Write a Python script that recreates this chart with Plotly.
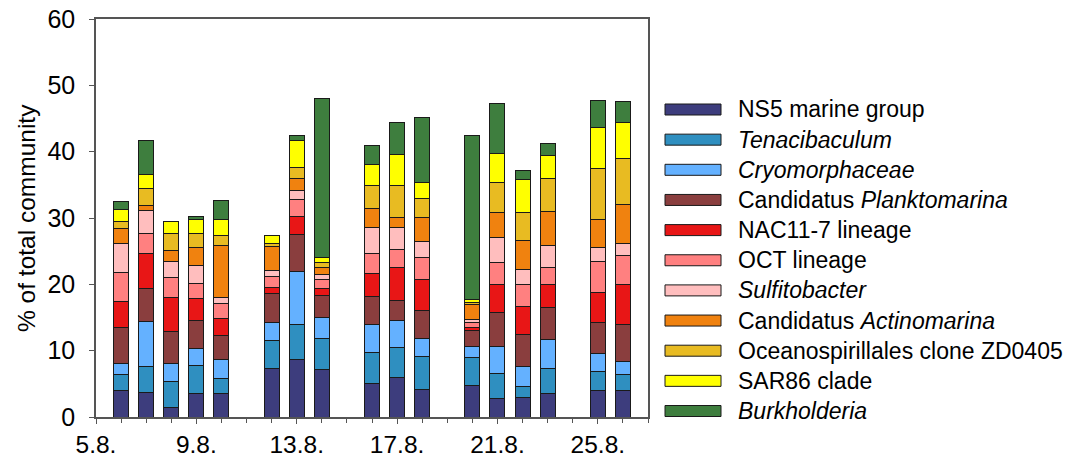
import plotly.graph_objects as go

# Sampling days (August)
days = [6, 7, 8, 9, 10, 12, 13, 14, 16, 17, 18, 20, 21, 22, 23, 25, 26]
tick_days = [5, 9, 13, 17, 21, 25]
tick_labels = ["5.8.", "9.8.", "13.8.", "17.8.", "21.8.", "25.8."]

ns5 = [4.0, 3.7, 1.4, 3.5, 3.6, 7.3, 8.6, 7.2, 5.1, 5.9, 4.2, 4.8, 2.8, 3.0, 3.5, 4.0, 4.0]
tenacibaculum = [2.4, 3.85, 3.9, 4.2, 2.25, 4.2, 5.4, 4.7, 4.6, 4.6, 4.9, 4.2, 3.8, 1.65, 3.8, 2.9, 2.4]
cryomorphaceae = [1.6, 6.9, 2.8, 2.65, 2.85, 2.7, 8.0, 3.1, 4.2, 4.1, 2.7, 1.7, 4.0, 3.0, 4.4, 2.7, 2.0]
planktomarina = [5.55, 4.9, 4.75, 4.2, 3.55, 4.4, 5.5, 3.3, 4.2, 3.0, 4.3, 2.4, 5.1, 4.8, 4.8, 4.6, 5.6]
nac11_7 = [3.85, 5.35, 5.15, 3.3, 2.6, 0.95, 2.75, 1.1, 3.5, 5.0, 4.6, 0.35, 4.3, 4.2, 3.5, 4.6, 6.0]
oct_lineage = [4.4, 3.0, 3.0, 2.3, 2.2, 1.65, 2.6, 1.35, 3.0, 2.7, 3.4, 0.8, 3.3, 3.3, 2.5, 4.6, 4.4]
sulfitobacter = [4.3, 3.45, 2.4, 2.75, 1.0, 0.85, 1.35, 0.75, 4.0, 3.25, 2.35, 0.45, 3.7, 2.25, 3.35, 2.15, 1.7]
actinomarina = [2.3, 0.8, 1.65, 2.6, 7.8, 3.65, 1.75, 1.05, 2.9, 1.55, 3.7, 2.3, 3.9, 4.4, 5.1, 4.3, 5.9]
oceanospirillales = [1.0, 2.55, 2.65, 2.1, 1.45, 0.5, 1.7, 0.8, 3.35, 4.8, 2.75, 0.3, 4.4, 4.25, 5.05, 7.6, 6.9]
sar86 = [1.85, 2.0, 1.8, 2.2, 2.4, 1.15, 4.0, 0.65, 3.15, 4.7, 2.45, 0.4, 4.35, 4.9, 3.45, 6.2, 5.5]
burkholderia = [1.2, 5.2, 0.0, 0.5, 3.0, 0.0, 0.85, 24.0, 2.9, 4.85, 9.75, 24.8, 7.55, 1.45, 1.75, 4.0, 3.1]

series = [
    ("NS5 marine group", ns5, "#3d3d7d"),
    ("<i>Tenacibaculum</i>", tenacibaculum, "#2f8fc0"),
    ("<i>Cryomorphaceae</i>", cryomorphaceae, "#64b1ff"),
    ("Candidatus <i>Planktomarina</i>", planktomarina, "#8a3e3e"),
    ("NAC11-7 lineage", nac11_7, "#e81616"),
    ("OCT lineage", oct_lineage, "#ff8080"),
    ("<i>Sulfitobacter</i>", sulfitobacter, "#ffbebe"),
    ("Candidatus <i>Actinomarina</i>", actinomarina, "#f0820f"),
    ("Oceanospirillales clone ZD0405", oceanospirillales, "#e8bb22"),
    ("SAR86 clade", sar86, "#ffff00"),
    ("<i>Burkholderia</i>", burkholderia, "#3e7e3e"),
]

FONT = "Liberation Sans, Arial, sans-serif"
fig = go.Figure()
for name, vals, col in series:
    fig.add_trace(go.Bar(
        x=days, y=vals, name=name, width=0.6,
        marker=dict(color=col, line=dict(color="#1a1a1a", width=1)),
        showlegend=False,
    ))

# Manual legend (wide swatches like the original)
L, W = 96, 552
T, B = 19, 417
H = B - T
for i, (name, vals, col) in enumerate(series):
    yc = 109.5 + i * 30.15
    fig.add_shape(type="rect", xref="paper", yref="paper",
                  x0=(665 - L) / W, x1=(721 - L) / W,
                  y0=(B - (yc - 5.5)) / H, y1=(B - (yc + 5.5)) / H,
                  fillcolor=col, line=dict(color="#1a1a1a", width=1))
    fig.add_annotation(xref="paper", yref="paper", x=(736 - L) / W, y=(B - yc) / H,
                       text=name, showarrow=False, xanchor="left", yanchor="middle",
                       font=dict(size=23, color="#000", family=FONT))

fig.add_annotation(xref="paper", yref="paper", x=(26 - L) / W, y=0.5,
                   text="% of total community", textangle=-90, showarrow=False,
                   xanchor="center", yanchor="middle",
                   font=dict(size=24.5, color="#000", family=FONT))

axis_col = "#555555"
fig.update_layout(
    width=1090, height=466,
    margin=dict(l=L, r=1090 - L - W, t=T, b=466 - B, pad=0, autoexpand=False),
    barmode="stack",
    plot_bgcolor="white", paper_bgcolor="white",
    font=dict(family=FONT, size=23, color="#000"),
    xaxis=dict(range=[5, 27], tickmode="array", tickvals=tick_days, ticktext=tick_labels,
               ticks="outside", ticklen=5, tickcolor=axis_col, tickwidth=1,
               tickfont=dict(size=24.5), automargin=False,
               minor=dict(tickmode="linear", tick0=5, dtick=1, ticks="outside",
                          ticklen=4, tickcolor=axis_col),
               showline=True, linecolor=axis_col, linewidth=1.5, mirror=True,
               showgrid=False, zeroline=False, fixedrange=True),
    yaxis=dict(range=[0, 60], tickmode="linear", tick0=0, dtick=10,
               ticks="outside", ticklen=5, tickcolor=axis_col,
               tickfont=dict(size=25), automargin=False,
               showline=True, linecolor=axis_col, linewidth=1.5, mirror=True,
               showgrid=False, zeroline=False, ticklabelstandoff=9),
)

fig.write_html("out.html")
